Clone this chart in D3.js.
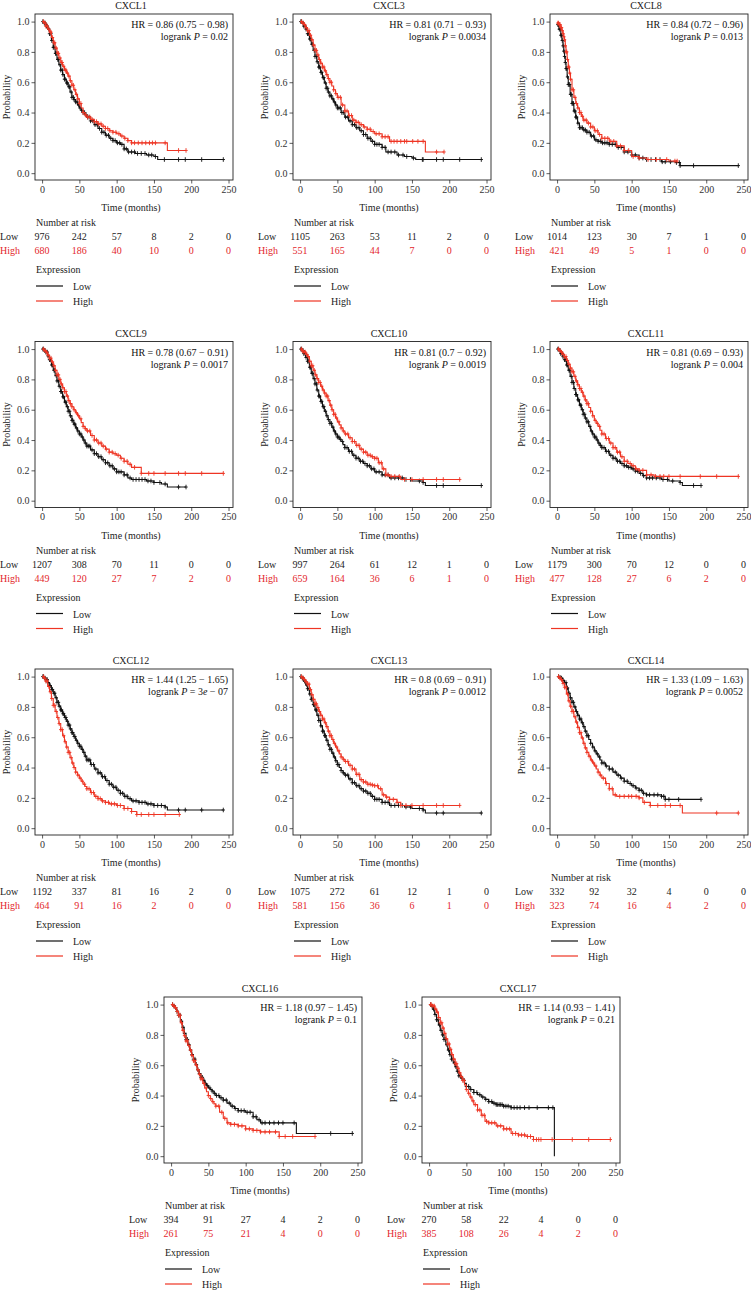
<!DOCTYPE html>
<html><head><meta charset="utf-8">
<script src="https://cdn.jsdelivr.net/npm/d3@7"></script>
<style>
html,body{margin:0;padding:0;background:#fff;}
svg text{font-family:"Liberation Serif","DejaVu Serif",serif;}
</style></head>
<body>
<svg id="chart" width="751" height="1290"></svg>
<script>
// ---------- data ----------
const genes = ["CXCL1","CXCL3","CXCL8","CXCL9","CXCL10","CXCL11","CXCL12","CXCL13","CXCL14","CXCL16","CXCL17"];
const hrLabels = ["0.86 (0.75 \u2212 0.98)","0.81 (0.71 \u2212 0.93)","0.84 (0.72 \u2212 0.96)","0.78 (0.67 \u2212 0.91)","0.81 (0.7 \u2212 0.92)","0.81 (0.69 \u2212 0.93)","1.44 (1.25 \u2212 1.65)","0.8 (0.69 \u2212 0.91)","1.33 (1.09 \u2212 1.63)","1.18 (0.97 \u2212 1.45)","1.14 (0.93 \u2212 1.41)"];
const pLabels = ["0.02","0.0034","0.013","0.0017","0.0019","0.004","3e\u221207","0.0012","0.0052","0.1","0.21"];
const riskTimes = [0,50,100,150,200,250];
const xTicks = [0,50,100,150,200,250];
const yTicks = [0,0.2,0.4,0.6,0.8,1.0];
const riskLow = [[976,242,57,8,2,0],[1105,263,53,11,2,0],[1014,123,30,7,1,0],[1207,308,70,11,0,0],[997,264,61,12,1,0],[1179,300,70,12,0,0],[1192,337,81,16,2,0],[1075,272,61,12,1,0],[332,92,32,4,0,0],[394,91,27,4,2,0],[270,58,22,4,0,0]];
const riskHigh = [[680,186,40,10,0,0],[551,165,44,7,0,0],[421,49,5,1,0,0],[449,120,27,7,2,0],[659,164,36,6,1,0],[477,128,27,6,2,0],[464,91,16,2,0,0],[581,156,36,6,1,0],[323,74,16,4,2,0],[261,75,21,4,0,0],[385,108,26,4,2,0]];

// survival step points [months, probability], last point = end of follow-up
const lowCurves = [
 [[0,1],[2.5,.99],[5,.97],[7.5,.95],[10,.92],[12.5,.875],[15,.83],[17.5,.79],[20,.75],[22.5,.715],[25,.68],[27.5,.65],[30,.62],[32.5,.595],[35,.57],[37.5,.535],[40,.5],[42.5,.485],[45,.47],[47.5,.45],[50,.43],[52.5,.415],[55,.4],[57.5,.385],[60,.37],[65,.345],[70,.32],[75,.295],[80,.27],[85,.25],[90,.23],[95,.215],[100,.2],[105,.19],[110,.16],[115,.14],[125,.13],[140,.12],[150,.11],[155,.09],[243,.09]],
 [[0,1],[2.5,.99],[5,.97],[7.5,.95],[10,.92],[12.5,.885],[15,.85],[17.5,.81],[20,.77],[22.5,.735],[25,.7],[27.5,.665],[30,.63],[32.5,.595],[35,.56],[37.5,.535],[40,.51],[42.5,.49],[45,.47],[47.5,.45],[50,.43],[55,.4],[60,.37],[65,.345],[70,.32],[75,.3],[80,.28],[85,.255],[90,.23],[95,.21],[100,.19],[110,.17],[115,.14],[130,.12],[140,.11],[150,.1],[155,.09],[243,.09]],
 [[0,.98],[2.5,.95],[5,.91],[6.5,.875],[8,.84],[9,.805],[10,.77],[11,.73],[12,.69],[13.5,.635],[15,.585],[17.5,.52],[20,.46],[22.5,.41],[25,.37],[27.5,.33],[30,.3],[35,.285],[40,.27],[45,.245],[50,.22],[55,.21],[60,.2],[70,.19],[80,.17],[90,.14],[100,.12],[110,.1],[120,.09],[140,.075],[160,.07],[165,.05],[243,.05]],
 [[0,1],[2.5,.99],[5,.98],[7.5,.955],[10,.93],[12.5,.895],[15,.86],[17.5,.825],[20,.79],[22.5,.755],[25,.72],[27.5,.685],[30,.65],[32.5,.62],[35,.59],[37.5,.56],[40,.53],[42.5,.505],[45,.48],[47.5,.46],[50,.44],[52.5,.42],[55,.4],[57.5,.38],[60,.36],[65,.335],[70,.31],[75,.29],[80,.27],[85,.25],[90,.23],[95,.21],[100,.19],[110,.17],[115,.15],[120,.14],[140,.13],[150,.12],[160,.11],[168,.09],[193,.09]],
 [[0,1],[2.5,.99],[5,.97],[7.5,.945],[10,.92],[12.5,.88],[15,.84],[17.5,.805],[20,.77],[22.5,.73],[25,.69],[27.5,.655],[30,.62],[32.5,.59],[35,.56],[37.5,.535],[40,.51],[42.5,.485],[45,.46],[47.5,.44],[50,.42],[52.5,.405],[55,.39],[57.5,.37],[60,.35],[65,.325],[70,.3],[75,.28],[80,.26],[85,.245],[90,.23],[95,.21],[100,.19],[110,.17],[120,.15],[140,.14],[150,.13],[165,.12],[168,.1],[243,.1]],
 [[0,1],[2.5,.99],[5,.97],[7.5,.95],[10,.93],[12.5,.895],[15,.86],[17.5,.82],[20,.78],[22.5,.74],[25,.7],[27.5,.665],[30,.63],[32.5,.6],[35,.57],[37.5,.545],[40,.52],[42.5,.49],[45,.46],[47.5,.44],[50,.42],[52.5,.4],[55,.38],[57.5,.365],[60,.35],[65,.325],[70,.3],[75,.28],[80,.26],[85,.245],[90,.23],[95,.22],[100,.21],[105,.195],[110,.18],[115,.165],[120,.15],[140,.14],[150,.13],[165,.12],[168,.1],[193,.1]],
 [[0,1],[2.5,.99],[5,.98],[7.5,.96],[10,.94],[12.5,.915],[15,.89],[17.5,.86],[20,.83],[22.5,.805],[25,.78],[27.5,.755],[30,.73],[32.5,.705],[35,.68],[37.5,.655],[40,.63],[42.5,.605],[45,.58],[47.5,.56],[50,.54],[52.5,.52],[55,.5],[57.5,.475],[60,.45],[65,.42],[70,.39],[75,.365],[80,.34],[85,.315],[90,.29],[95,.27],[100,.25],[105,.23],[110,.21],[115,.195],[120,.18],[130,.17],[140,.16],[150,.15],[165,.14],[168,.12],[243,.12]],
 [[0,1],[2.5,.99],[5,.97],[7.5,.945],[10,.92],[12.5,.885],[15,.85],[17.5,.815],[20,.78],[22.5,.745],[25,.71],[27.5,.675],[30,.64],[32.5,.61],[35,.58],[37.5,.55],[40,.52],[42.5,.495],[45,.47],[47.5,.445],[50,.42],[52.5,.4],[55,.38],[57.5,.365],[60,.35],[65,.325],[70,.3],[75,.28],[80,.26],[85,.245],[90,.23],[95,.21],[100,.19],[110,.17],[120,.15],[140,.14],[150,.13],[165,.12],[168,.1],[243,.1]],
 [[0,1],[2.5,.995],[5,.99],[7.5,.975],[10,.96],[12.5,.925],[15,.89],[17.5,.86],[20,.83],[22.5,.8],[25,.77],[27.5,.745],[30,.72],[32.5,.695],[35,.67],[37.5,.64],[40,.61],[42.5,.585],[45,.56],[47.5,.535],[50,.51],[52.5,.49],[55,.47],[57.5,.45],[60,.43],[65,.41],[70,.39],[75,.37],[80,.35],[85,.33],[90,.31],[95,.295],[100,.28],[105,.265],[110,.25],[115,.23],[120,.22],[140,.21],[145,.19],[193,.19]],
 [[0,1],[2.5,.99],[5,.98],[7.5,.955],[10,.93],[12.5,.89],[15,.85],[17.5,.81],[20,.77],[22.5,.735],[25,.7],[27.5,.67],[30,.64],[32.5,.605],[35,.57],[37.5,.545],[40,.52],[42.5,.5],[45,.48],[47.5,.465],[50,.45],[52.5,.44],[55,.43],[57.5,.415],[60,.4],[65,.385],[70,.37],[75,.35],[80,.33],[85,.315],[90,.3],[100,.29],[110,.26],[115,.24],[120,.22],[168,.15],[243,.15]],
 [[0,1],[2.5,.99],[5,.97],[7.5,.935],[10,.9],[12.5,.865],[15,.83],[17.5,.8],[20,.77],[22.5,.735],[25,.7],[27.5,.67],[30,.64],[32.5,.615],[35,.59],[37.5,.56],[40,.53],[42.5,.515],[45,.5],[47.5,.48],[50,.46],[55,.44],[60,.42],[65,.405],[70,.39],[75,.375],[80,.36],[85,.35],[90,.34],[100,.33],[110,.32],[168,0],[168,0]]
];
const highCurves = [
 [[0,1],[2.5,.99],[5,.97],[7.5,.95],[10,.93],[12.5,.895],[15,.86],[17.5,.825],[20,.79],[22.5,.76],[25,.73],[27.5,.705],[30,.68],[32.5,.66],[35,.64],[37.5,.61],[40,.58],[42.5,.55],[45,.52],[47.5,.49],[50,.46],[52.5,.43],[55,.4],[57.5,.385],[60,.37],[65,.355],[70,.34],[75,.325],[80,.31],[85,.295],[90,.28],[95,.27],[100,.26],[105,.245],[110,.23],[115,.215],[120,.2],[168,.15],[193,.15]],
 [[0,1],[2.5,.99],[5,.98],[7.5,.96],[10,.94],[12.5,.91],[15,.88],[17.5,.845],[20,.81],[22.5,.78],[25,.75],[27.5,.725],[30,.7],[32.5,.675],[35,.65],[37.5,.625],[40,.6],[42.5,.575],[45,.55],[47.5,.525],[50,.5],[55,.45],[60,.41],[65,.38],[70,.35],[75,.335],[80,.32],[85,.305],[90,.29],[95,.275],[100,.26],[110,.24],[120,.21],[168,.14],[193,.14]],
 [[0,.99],[2.5,.98],[5,.96],[6.5,.94],[8,.92],[9,.9],[10,.88],[11,.84],[12,.8],[13.5,.75],[15,.7],[16.5,.66],[18,.62],[20,.55],[22.5,.5],[25,.46],[27.5,.43],[30,.4],[32.5,.375],[35,.35],[40,.33],[45,.305],[50,.28],[55,.255],[60,.23],[70,.21],[80,.18],[90,.15],[100,.11],[110,.1],[120,.09],[150,.08],[161,.08]],
 [[0,1],[2.5,.99],[5,.98],[7.5,.96],[10,.94],[12.5,.915],[15,.89],[17.5,.86],[20,.83],[22.5,.8],[25,.77],[27.5,.745],[30,.72],[32.5,.69],[35,.66],[37.5,.64],[40,.62],[42.5,.6],[45,.58],[47.5,.56],[50,.54],[52.5,.515],[55,.49],[57.5,.475],[60,.46],[65,.43],[70,.4],[75,.38],[80,.36],[85,.34],[90,.32],[95,.31],[100,.3],[105,.28],[110,.26],[115,.24],[120,.22],[133,.18],[243,.18]],
 [[0,1],[2.5,.99],[5,.98],[7.5,.965],[10,.95],[12.5,.92],[15,.89],[17.5,.86],[20,.83],[22.5,.805],[25,.78],[27.5,.755],[30,.73],[32.5,.71],[35,.69],[37.5,.66],[40,.63],[42.5,.6],[45,.57],[47.5,.545],[50,.52],[52.5,.5],[55,.48],[57.5,.46],[60,.44],[65,.415],[70,.39],[75,.365],[80,.34],[85,.32],[90,.3],[95,.29],[100,.28],[105,.25],[110,.21],[115,.17],[120,.16],[135,.14],[214,.14]],
 [[0,1],[2.5,.99],[5,.98],[7.5,.965],[10,.95],[12.5,.925],[15,.9],[17.5,.875],[20,.85],[22.5,.82],[25,.79],[27.5,.765],[30,.74],[32.5,.715],[35,.69],[37.5,.665],[40,.64],[42.5,.615],[45,.59],[47.5,.56],[50,.53],[52.5,.51],[55,.49],[57.5,.465],[60,.44],[65,.41],[70,.38],[75,.35],[80,.32],[85,.29],[90,.26],[95,.245],[100,.23],[105,.21],[110,.2],[120,.17],[130,.16],[243,.16]],
 [[0,1],[2.5,.99],[5,.97],[7.5,.935],[10,.9],[12.5,.855],[15,.81],[17.5,.77],[20,.73],[22.5,.69],[25,.65],[27.5,.61],[30,.57],[32.5,.535],[35,.5],[37.5,.465],[40,.43],[42.5,.4],[45,.37],[47.5,.35],[50,.33],[52.5,.31],[55,.29],[57.5,.275],[60,.26],[65,.235],[70,.21],[75,.195],[80,.18],[85,.17],[90,.16],[100,.15],[110,.13],[120,.11],[127,.09],[184,.09]],
 [[0,1],[2.5,.99],[5,.98],[7.5,.965],[10,.95],[12.5,.915],[15,.88],[17.5,.85],[20,.82],[22.5,.795],[25,.77],[27.5,.745],[30,.72],[32.5,.695],[35,.67],[37.5,.64],[40,.61],[42.5,.585],[45,.56],[47.5,.535],[50,.51],[52.5,.49],[55,.47],[57.5,.455],[60,.44],[65,.415],[70,.39],[75,.355],[80,.32],[85,.305],[90,.29],[95,.285],[100,.28],[105,.26],[110,.22],[115,.205],[120,.19],[130,.17],[135,.15],[214,.15]],
 [[0,1],[2.5,.99],[5,.98],[7.5,.955],[10,.93],[12.5,.885],[15,.84],[17.5,.805],[20,.77],[22.5,.735],[25,.7],[27.5,.665],[30,.63],[32.5,.595],[35,.56],[37.5,.53],[40,.5],[42.5,.475],[45,.45],[47.5,.43],[50,.41],[52.5,.39],[55,.37],[57.5,.35],[60,.33],[65,.295],[70,.26],[75,.22],[80,.21],[110,.2],[115,.17],[125,.15],[168,.1],[243,.1]],
 [[0,1],[2.5,.99],[5,.98],[7.5,.955],[10,.93],[12.5,.88],[15,.83],[17.5,.795],[20,.76],[22.5,.73],[25,.7],[27.5,.665],[30,.63],[32.5,.6],[35,.57],[37.5,.54],[40,.51],[42.5,.48],[45,.45],[47.5,.425],[50,.4],[52.5,.38],[55,.36],[57.5,.345],[60,.33],[65,.29],[70,.25],[75,.22],[80,.21],[90,.2],[100,.18],[110,.17],[120,.16],[145,.13],[193,.13]],
 [[0,1],[2.5,1],[5,.99],[7.5,.97],[10,.95],[12.5,.915],[15,.88],[17.5,.845],[20,.81],[22.5,.775],[25,.74],[27.5,.705],[30,.67],[32.5,.64],[35,.61],[37.5,.58],[40,.55],[42.5,.525],[45,.5],[47.5,.47],[50,.44],[52.5,.415],[55,.39],[57.5,.365],[60,.34],[65,.305],[70,.27],[75,.23],[80,.22],[90,.2],[100,.18],[110,.15],[120,.14],[130,.13],[140,.11],[243,.11]]
];
// censoring times (months)
const lowCensor = [
 [1,3,4,6,7,9,10,12,13,15,16,18,19,21,22,24,25,27,28,30,31,33,34,36,37,39,40,42,43,45,47,49,51,53,55,57,59,61,63,65,68,71,74,77,80,83,86,89,92,95,98,101,104,107,110,113,116,120,124,128,133,138,143,147,152,164,183,192,214,243],
 [1,2,4,5,7,8,10,11,13,14,16,17,19,20,22,23,25,26,28,29,31,32,34,35,37,38,40,42,44,46,48,50,52,54,56,58,61,64,67,70,73,76,79,82,85,88,91,94,97,100,103,106,110,114,118,122,127,132,138,143,152,164,165,183,192,214,243],
 [1,2,3,4,5,6,7,8,9,10,11,12,13,14,15,16,17,18,19,20,21,22,23,24,25,26,28,30,32,34,36,38,40,43,46,49,52,55,58,61,64,67,70,74,78,82,86,90,95,100,105,110,115,120,126,132,138,141,145,152,160,164,165,183,243],
 [1,2,4,5,7,8,10,11,13,14,16,17,19,20,22,23,25,26,28,29,31,32,34,35,37,38,40,41,43,44,46,48,50,52,54,56,58,60,62,64,67,70,73,76,79,82,85,88,91,94,97,100,103,106,110,114,118,122,126,130,134,138,142,146,150,158,165,183,193],
 [1,2,4,5,7,8,10,11,13,14,16,17,19,20,22,23,25,26,28,29,31,32,34,36,38,40,42,44,46,48,50,52,54,57,60,63,66,69,72,75,78,81,84,87,90,93,96,99,102,106,110,114,118,122,127,132,137,142,148,160,165,183,192,243],
 [1,2,4,5,7,8,10,11,13,14,16,17,19,20,22,23,25,26,28,29,31,32,34,35,37,38,40,42,44,46,48,50,52,54,56,58,60,63,66,69,72,75,78,81,84,87,90,93,96,99,102,105,108,112,116,120,124,128,133,138,142,148,155,165,183,193],
 [1,2,4,5,7,8,10,11,13,14,16,17,19,20,22,23,25,26,28,29,31,32,34,35,37,38,40,41,43,44,46,48,50,52,54,56,58,60,62,64,66,69,72,75,78,81,84,87,90,93,96,99,102,105,108,111,114,118,122,126,130,134,138,142,146,150,155,160,165,183,192,214,243],
 [1,3,4,6,7,9,10,12,13,15,16,18,19,21,22,24,25,27,28,30,31,33,34,36,38,40,42,44,46,48,50,52,55,58,61,64,67,70,73,76,79,82,85,88,91,94,97,100,103,106,110,114,118,122,127,132,137,142,148,160,165,183,192,243],
 [2,4,6,8,10,12,14,16,18,20,22,24,26,28,30,32,34,36,38,40,42,45,48,51,54,57,60,63,66,70,74,78,82,86,90,94,98,102,106,110,113,116,120,124,130,135,140,143,145,150,163,193],
 [2,4,6,8,10,12,14,16,18,20,22,24,26,28,30,32,34,36,38,40,42,44,46,49,52,55,58,61,64,67,70,74,78,82,86,90,94,98,102,106,110,114,118,122,126,132,138,144,150,165,214,243],
 [2,4,6,8,10,12,14,16,18,20,22,24,26,28,30,32,34,36,38,40,42,44,47,50,53,56,60,64,68,72,76,80,84,87,90,92,94,96,98,100,103,106,110,114,118,122,128,134,145,160,166]
];
const highCensor = [
 [2,4,5,7,9,11,12,14,16,17,19,21,22,24,26,27,29,31,32,34,36,38,40,42,44,46,48,50,52,55,58,61,64,67,70,73,76,79,82,85,88,91,95,99,103,107,111,115,120,124,129,134,139,144,148,152,165,183,193],
 [2,4,6,8,10,12,14,16,18,20,22,24,26,28,30,32,34,36,38,40,42,45,48,51,54,57,60,63,66,69,72,75,78,82,86,90,94,98,102,106,110,114,118,122,126,130,135,140,143,151,158,165,183,193],
 [1,2,3,4,5,6,7,8,9,10,11,12,13,14,15,16,17,18,20,22,24,26,28,30,32,34,36,39,42,45,48,51,54,57,60,64,68,72,76,80,85,90,96,102,110,122,133,147,158,161],
 [2,4,6,8,10,12,14,16,18,20,22,24,26,28,30,32,34,36,38,40,43,46,49,52,55,58,61,64,67,70,73,76,79,82,86,90,94,98,102,106,110,114,118,124,133,143,150,165,183,192,214,243],
 [2,3,5,7,9,11,13,15,17,19,21,23,25,27,29,31,33,35,37,39,41,43,45,47,49,52,55,58,61,64,67,70,73,76,79,82,85,88,91,94,97,100,103,106,109,112,115,118,122,127,133,140,150,165,183,192,214],
 [2,4,6,8,10,12,14,16,18,20,22,24,26,28,30,32,34,36,38,40,42,45,48,51,54,57,60,63,66,69,72,75,78,81,84,87,90,94,98,102,106,110,115,120,126,132,138,143,150,165,192,214,243],
 [2,3,5,7,9,11,13,15,17,19,21,23,25,27,29,31,33,35,37,39,41,43,45,48,51,54,57,60,63,66,69,72,75,78,81,85,89,93,97,101,105,110,115,120,127,133,143,150,165,184],
 [2,4,6,8,10,12,14,16,18,20,22,24,26,28,30,32,34,36,38,40,42,44,46,49,52,55,58,61,64,67,70,73,76,79,82,85,88,91,94,97,100,104,108,112,116,120,125,130,135,142,150,165,183,192,214],
 [2,4,6,8,10,12,14,16,18,20,22,24,26,28,30,32,34,36,38,40,43,46,49,52,55,58,62,66,70,74,78,84,90,96,100,106,110,117,125,135,145,152,165,214,243],
 [2,4,6,8,10,12,14,16,18,20,22,24,26,28,30,32,34,36,38,40,42,44,47,50,53,56,60,64,68,72,76,80,85,90,95,100,105,110,115,120,126,132,140,145,153,163,193],
 [2,3,5,7,9,11,13,15,17,19,21,23,25,27,29,31,33,35,37,39,41,43,45,47,50,53,56,59,62,65,68,71,74,77,80,84,88,92,96,100,104,108,112,116,120,124,128,132,136,140,144,147,150,165,192,214,243]
];

// ---------- layout ----------
const panelPos = [[0,0],[258,0],[515,0],[0,327.5],[258,327.5],[515,327.5],[0,655],[258,655],[515,655],[129,983],[387,983]];
const BLACK = "#111", RED = "#ee3524", RED_TXT = "#e3262b";
const FS = 10;

const svg = d3.select("#chart");
const x = d3.scaleLinear().domain([-9.5,256]).range([35,233]);
const y = d3.scaleLinear().domain([-0.045,1.05]).range([180,14]);

function survAt(curve, t){
  const i = d3.bisector(d => d[0]).right(curve, t) - 1;
  return curve[Math.max(0,i)][1];
}

genes.forEach((gene, k) => {
  const [ox, oy] = panelPos[k];
  const g = svg.append("g").attr("transform", `translate(${ox},${oy})`);

  g.append("text").attr("x", 131).attr("y", 9).attr("text-anchor","middle")
    .attr("font-size", FS).attr("fill","#222").text(gene);

  const xa = g.append("g").attr("transform","translate(0,180)")
    .call(d3.axisBottom(x).tickValues(xTicks).tickSize(3.5).tickPadding(2).tickFormat(d3.format("d")));
  const ya = g.append("g").attr("transform","translate(35,0)")
    .call(d3.axisLeft(y).tickValues(yTicks).tickSize(3.5).tickPadding(2).tickFormat(d3.format(".1f")));
  [xa, ya].forEach(a => {
    a.select(".domain").remove();
    a.selectAll("line").attr("stroke","#333").attr("stroke-width",0.8);
    a.selectAll("text").attr("font-size", FS).attr("fill","#333")
      .attr("font-family",'"Liberation Serif",serif');
  });
  g.append("rect").attr("x",35).attr("y",14).attr("width",198).attr("height",166)
    .attr("fill","none").attr("stroke","#222").attr("stroke-width",0.9);

  g.append("text").attr("x",131).attr("y",211).attr("text-anchor","middle")
    .attr("font-size", FS).attr("fill","#222").text("Time (months)");
  g.append("text").attr("transform","translate(10,97) rotate(-90)").attr("text-anchor","middle")
    .attr("font-size", FS).attr("fill","#222").text("Probability");

  const line = d3.line().x(d => x(d[0])).y(d => y(d[1])).curve(d3.curveStepAfter);
  const series = [
    {curve: lowCurves[k], cens: lowCensor[k], color: BLACK},
    {curve: highCurves[k], cens: highCensor[k], color: RED}
  ];
  series.forEach(s => {
    g.append("path").datum(s.curve).attr("d", line).attr("fill","none")
      .attr("stroke", s.color).attr("stroke-width",1.1);
    const m = g.append("g").attr("stroke", s.color).attr("stroke-width",0.9);
    s.cens.forEach(t => {
      const cx = x(t), cy = y(survAt(s.curve, t));
      m.append("line").attr("x1",cx).attr("x2",cx).attr("y1",cy-2.3).attr("y2",cy+2.3);
      m.append("line").attr("x1",cx-1.7).attr("x2",cx+1.7).attr("y1",cy).attr("y2",cy);
    });
  });

  g.append("text").attr("x",228).attr("y",28).attr("text-anchor","end")
    .attr("font-size", FS).attr("fill","#111").text("HR = " + hrLabels[k]);
  const lt = g.append("text").attr("x",228).attr("y",40).attr("text-anchor","end")
    .attr("font-size", FS).attr("fill","#111");
  lt.append("tspan").text("logrank ");
  lt.append("tspan").attr("font-style","italic").text("P");
  const pv = pLabels[k];
  if (pv.includes("e")) {
    const parts = pv.split("e");
    lt.append("tspan").text(" = " + parts[0]);
    lt.append("tspan").attr("font-style","italic").text("e");
    lt.append("tspan").text(" \u2212 " + parts[1].replace("\u2212",""));
  } else {
    lt.append("tspan").text(" = " + pv);
  }

  g.append("text").attr("x",36).attr("y",226).attr("font-size", FS).attr("fill","#222").text("Number at risk");
  g.append("text").attr("x",0).attr("y",240).attr("font-size", FS).attr("fill","#222").text("Low");
  g.append("text").attr("x",0).attr("y",254).attr("font-size", FS).attr("fill",RED_TXT).text("High");
  riskTimes.forEach((t,i) => {
    g.append("text").attr("x",x(t)).attr("y",240).attr("text-anchor","middle")
      .attr("font-size", FS).attr("fill","#222").text(riskLow[k][i]);
    g.append("text").attr("x",x(t)).attr("y",254).attr("text-anchor","middle")
      .attr("font-size", FS).attr("fill",RED_TXT).text(riskHigh[k][i]);
  });

  g.append("text").attr("x",36).attr("y",273).attr("font-size", FS).attr("fill","#222").text("Expression");
  g.append("line").attr("x1",36).attr("x2",63).attr("y1",286).attr("y2",286).attr("stroke",BLACK).attr("stroke-width",1.2);
  g.append("line").attr("x1",36).attr("x2",63).attr("y1",301).attr("y2",301).attr("stroke",RED).attr("stroke-width",1.2);
  g.append("text").attr("x",73).attr("y",290).attr("font-size", FS).attr("fill","#222").text("Low");
  g.append("text").attr("x",73).attr("y",305).attr("font-size", FS).attr("fill","#222").text("High");
});
</script>
</body></html>
